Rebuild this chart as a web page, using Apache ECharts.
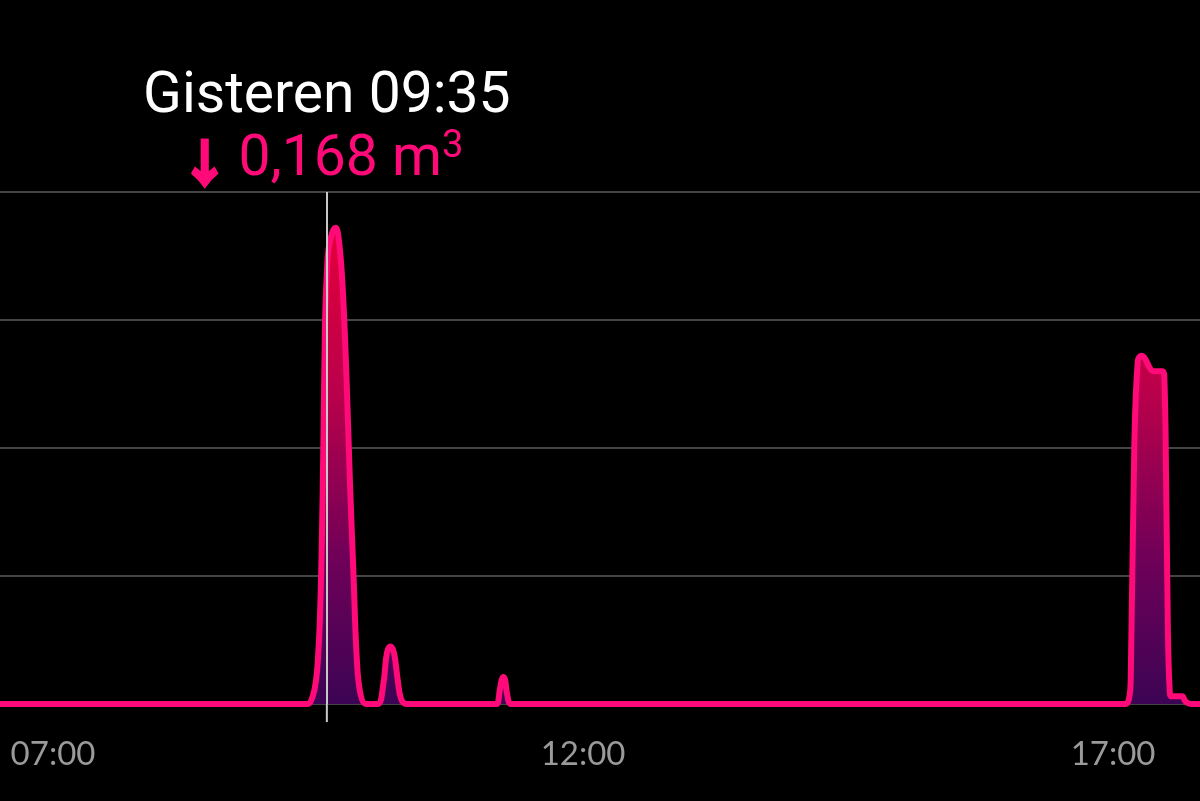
<!DOCTYPE html>
<html>
<head>
<meta charset="utf-8">
<script src="https://cdn.jsdelivr.net/npm/echarts@6/dist/echarts.min.js"></script>
<style>
  html, body { margin: 0; padding: 0; background: #000; }
  #chart { width: 1200px; height: 801px; }
</style>
</head>
<body>
<div id="chart"></div>
<script>
// ---- data ----
const times = ['06:30','09:20','09:24','09:27','09:29','09:30','09:31','09:32','09:33','09:34','09:35','09:36','09:38','09:40','09:42','09:44','09:46','09:48','09:50','09:52','09:54','09:57',
  '10:00','10:04','10:07','10:09','10:11','10:13','10:15','10:17','10:20',
  '11:08','11:11','11:13','11:14','11:15','11:16','11:17','11:19','11:22',
  '17:05','17:07','17:09','17:10','17:12','17:14','17:16','17:18','17:21','17:23','17:28','17:29','17:30','17:31','17:32','17:33','17:39','17:41','17:44','17:50'];
const values = [0,0,0,0.003,0.010,0.018,0.032,0.058,0.100,0.150,0.168,0.178,0.184,0.186,0.180,0.162,0.130,0.088,0.052,0.017,0.004,0,
  0,0,0.008,0.020,0.0225,0.020,0.010,0.002,0,
  0,0,0.006,0.0095,0.0105,0.009,0.004,0,0,
  0,0,0.002,0.010,0.100,0.134,0.136,0.135,0.131,0.130,0.130,0.128,0.090,0.030,0.006,0.003,0.003,0.001,0,0];
const xTickLabels = ['07:00','12:00','17:00'];
const cursorTime = '09:35';
const headerTitle = 'Gisteren 09:35';
const headerArrow = '↓';
const headerValue = '0,168';
const headerUnit = 'm';
const yMax = 0.2;
const yStep = 0.05;

// ---- helpers ----
const toMin = s => { const [h, m] = s.split(':').map(Number); return h * 60 + m; };
const fmt = v => { const h = Math.floor(v / 60), m = Math.round(v % 60); return String(h).padStart(2,'0') + ':' + String(m).padStart(2,'0'); };
const seriesData = times.map((t, i) => [toMin(t), values[i]]);

const chart = echarts.init(document.getElementById('chart'), null, { renderer: 'canvas' });
chart.setOption({
  backgroundColor: '#000000',
  animation: false,
  grid: { left: 0, right: 0, top: 192, bottom: 97, containLabel: false },
  xAxis: {
    type: 'value',
    min: 390,
    max: 1069.2,
    axisLine: { show: false },
    axisTick: { show: false },
    splitLine: { show: false },
    axisLabel: {
      customValues: xTickLabels.map(toMin),
      formatter: v => fmt(v),
      color: '#9a9a9a',
      fontFamily: 'Lato',
      fontSize: 33,
      margin: 34
    }
  },
  yAxis: {
    type: 'value',
    min: 0,
    max: yMax,
    interval: yStep,
    axisLine: { show: false },
    axisTick: { show: false },
    axisLabel: { show: false },
    splitLine: { show: true, lineStyle: { color: '#444444', width: 2 } }
  },
  series: [{
    type: 'line',
    data: seriesData,
    smooth: 0.4,
    showSymbol: false,
    symbol: 'none',
    silent: true,
    lineStyle: { color: '#ff0a78', width: 6 },
    areaStyle: {
      opacity: 1,
      color: new echarts.graphic.LinearGradient(0, 0, 0, 1, [
        { offset: 0, color: 'rgb(228,0,58)' },
        { offset: 0.35, color: 'rgb(185,0,75)' },
        { offset: 0.7, color: 'rgb(110,0,88)' },
        { offset: 1, color: 'rgb(60,4,84)' }
      ])
    },
    markLine: {
      silent: true,
      symbol: 'none',
      label: { show: false },
      lineStyle: { color: '#c8c8c8', width: 2, type: 'solid' },
      data: [{ xAxis: toMin(cursorTime) }]
    }
  }]
});

// cursor extension below baseline and header texts, positioned via the chart's own scales
const cx = chart.convertToPixel({ xAxisIndex: 0 }, toMin(cursorTime));
const y0 = chart.convertToPixel({ yAxisIndex: 0 }, 0);
chart.setOption({
  graphic: [
    {
      type: 'line', z: 100,
      shape: { x1: cx, y1: y0, x2: cx, y2: y0 + 18 },
      style: { stroke: '#c8c8c8', lineWidth: 2 }
    },
    {
      type: 'text', x: cx, y: 98, z: 100,
      style: {
        text: headerTitle,
        fill: '#ffffff',
        font: '57px Roboto',
        textAlign: 'center',
        textVerticalAlign: 'middle'
      }
    },
    {
      type: 'text', x: cx + 24, y: 161, z: 100,
      style: {
        text: '{v|' + headerValue + ' ' + headerUnit + '}{s|3}',
        textAlign: 'center',
        textVerticalAlign: 'middle',
        rich: {
          v: { fill: '#ff0a78', font: '57px Roboto', lineHeight: 66 },
          s: { fill: '#ff0a78', font: '38px Roboto', lineHeight: 66, verticalAlign: 'top' }
        }
      }
    },
    {
      type: 'text', x: cx - 122, y: 163, z: 100,
      style: {
        text: headerArrow,
        fill: '#ff0a78',
        stroke: '#ff0a78',
        lineWidth: 3,
        font: 'bold 50px "Noto Sans CJK SC"',
        textAlign: 'center',
        textVerticalAlign: 'middle'
      }
    }
  ]
});
</script>
</body>
</html>
